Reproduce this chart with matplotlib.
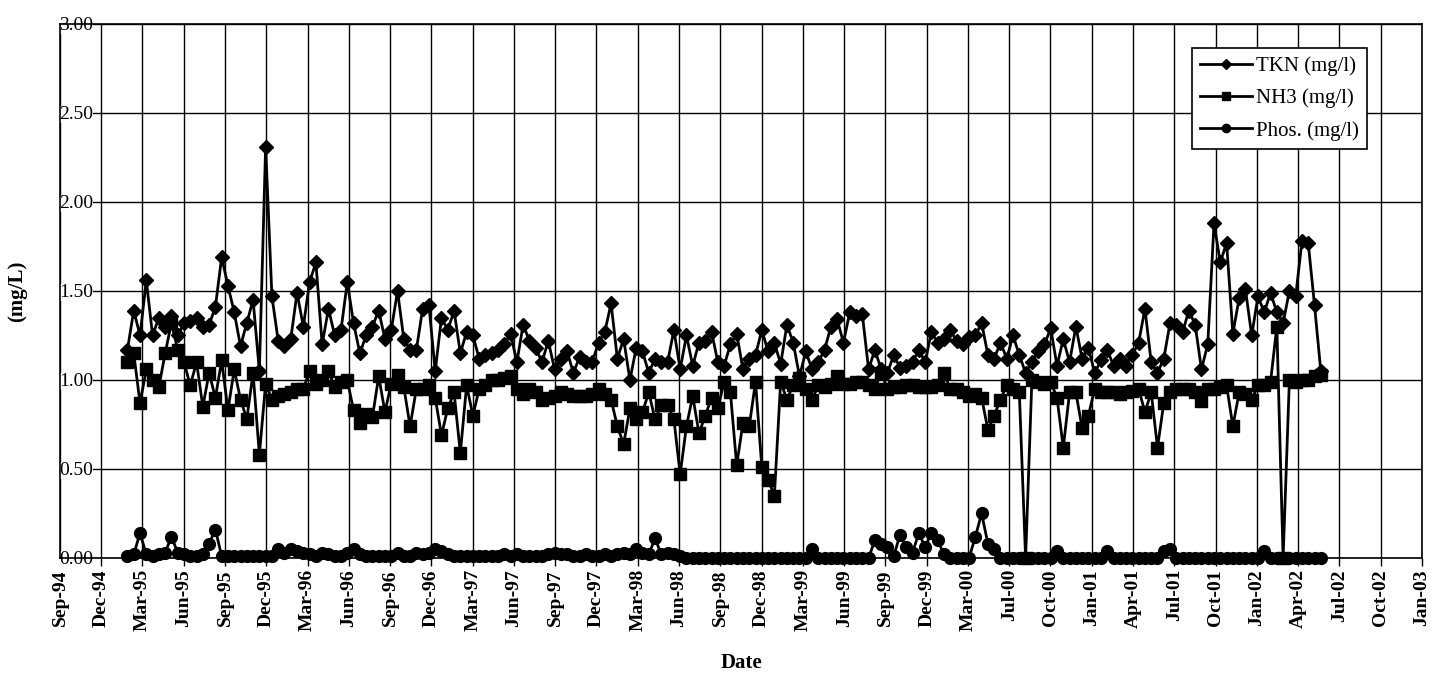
import numpy as np
import pandas as pd
import matplotlib
matplotlib.use("Agg")
import matplotlib.pyplot as plt
import matplotlib.dates as mdates

plt.rcParams['font.family'] = ['Liberation Serif', 'DejaVu Serif']

# sampling dates (bi-weekly grab samples, Feb-95 .. May-02)
sample_dates = pd.date_range('1995-02-13', periods=191, freq='14D')

tkn = [
    1.17, 1.39, 1.25, 1.56, 1.25, 1.35, 1.30, 1.36, 1.25, 1.32,
    1.33, 1.35, 1.30, 1.31, 1.41, 1.69, 1.53, 1.38, 1.19, 1.32,
    1.45, 1.05, 2.31, 1.47, 1.22, 1.19, 1.23, 1.49, 1.30, 1.55,
    1.66, 1.20, 1.40, 1.25, 1.28, 1.55, 1.32, 1.15, 1.25, 1.30,
    1.39, 1.23, 1.28, 1.50, 1.23, 1.17, 1.17,
    1.40, 1.42, 1.05, 1.35, 1.28, 1.39, 1.15, 1.27, 1.25, 1.12,
    1.14, 1.15, 1.17, 1.20, 1.26, 1.10, 1.31, 1.22, 1.18, 1.10,
    1.22, 1.06, 1.12, 1.16, 1.04, 1.13, 1.10, 1.10, 1.21, 1.27,
    1.43, 1.12, 1.23, 1.00, 1.18, 1.16, 1.04, 1.12, 1.10, 1.10,
    1.28, 1.06, 1.25, 1.08, 1.21, 1.22,
    1.27, 1.10, 1.08, 1.20, 1.26, 1.06, 1.12, 1.14, 1.28, 1.16,
    1.21, 1.09, 1.31, 1.21, 1.02, 1.16, 1.06, 1.10, 1.17, 1.30,
    1.34, 1.21, 1.38, 1.36, 1.37, 1.06, 1.17, 1.06, 1.04, 1.14,
    1.07, 1.08, 1.10, 1.17, 1.10, 1.27, 1.21, 1.23, 1.28, 1.22,
    1.20, 1.24, 1.25, 1.32, 1.14, 1.12, 1.21,
    1.12, 1.25, 1.14, 1.04, 1.10, 1.16, 1.20, 1.29, 1.08, 1.23,
    1.10, 1.30, 1.12, 1.18, 1.04, 1.11, 1.17, 1.08, 1.12, 1.08,
    1.14, 1.21, 1.40, 1.10, 1.04, 1.12, 1.32, 1.31, 1.27, 1.39,
    1.31, 1.06, 1.20, 1.88, 1.66, 1.77, 1.26, 1.46, 1.51, 1.25,
    1.47, 1.38, 1.49, 1.38, 1.32, 1.50, 1.47, 1.78, 1.77, 1.42,
    1.05,
]

nh3 = [
    1.10, 1.15, 0.87, 1.06, 1.00, 0.96, 1.15, 1.32, 1.17, 1.10,
    0.97, 1.10, 0.85, 1.04, 0.90, 1.11, 0.83, 1.06, 0.89, 0.78,
    1.04, 0.58, 0.98, 0.89, 0.91, 0.92, 0.93, 0.95, 0.95, 1.05,
    0.98, 1.00, 1.05, 0.96, 0.99, 1.00, 0.83, 0.76, 0.81, 0.79,
    1.02, 0.82, 0.98, 1.03, 0.96, 0.74, 0.95,
    0.95, 0.97, 0.90, 0.69, 0.84, 0.93, 0.59, 0.97, 0.80, 0.95,
    0.97, 1.00, 1.00, 1.01, 1.02, 0.95, 0.92, 0.95, 0.93, 0.89,
    0.90, 0.91, 0.93, 0.92, 0.91, 0.91, 0.91, 0.92, 0.95, 0.92,
    0.89, 0.74, 0.64, 0.84, 0.78, 0.82, 0.93, 0.78, 0.86, 0.86,
    0.78, 0.47, 0.74, 0.91, 0.70, 0.80,
    0.90, 0.84, 0.99, 0.93, 0.52, 0.76, 0.74, 0.99, 0.51, 0.44,
    0.35, 0.99, 0.89, 0.97, 1.01, 0.95, 0.89, 0.97, 0.96, 0.98,
    1.02, 0.98, 0.98, 0.99, 0.99, 0.97, 0.95, 1.04, 0.95, 0.96,
    0.96, 0.97, 0.97, 0.96, 0.96, 0.96, 0.97, 1.04, 0.95, 0.95,
    0.93, 0.91, 0.92, 0.90, 0.72, 0.80, 0.89,
    0.97, 0.95, 0.93, 0.00, 1.00, 0.99, 0.98, 0.99, 0.90, 0.62,
    0.93, 0.93, 0.73, 0.80, 0.95, 0.93, 0.93, 0.93, 0.92, 0.93,
    0.94, 0.95, 0.82, 0.93, 0.62, 0.87, 0.93, 0.95, 0.95, 0.95,
    0.93, 0.88, 0.95, 0.95, 0.96, 0.97, 0.74, 0.93, 0.92, 0.89,
    0.97, 0.97, 0.99, 1.30, 0.00, 1.00, 0.99, 1.00, 1.00, 1.02,
    1.03,
]

phos = [
    0.01, 0.02, 0.14, 0.02, 0.01, 0.02, 0.03, 0.12, 0.03, 0.02,
    0.01, 0.01, 0.02, 0.08, 0.16, 0.01, 0.01, 0.01, 0.01, 0.01,
    0.01, 0.01, 0.01, 0.01, 0.05, 0.03, 0.05, 0.04, 0.03, 0.02,
    0.01, 0.03, 0.02, 0.01, 0.01, 0.03, 0.05, 0.02, 0.01, 0.01,
    0.01, 0.01, 0.01, 0.03, 0.01, 0.01, 0.03,
    0.02, 0.03, 0.05, 0.04, 0.02, 0.01, 0.01, 0.01, 0.01, 0.01,
    0.01, 0.01, 0.01, 0.02, 0.01, 0.02, 0.01, 0.01, 0.01, 0.01,
    0.02, 0.03, 0.02, 0.02, 0.01, 0.01, 0.02, 0.01, 0.01, 0.02,
    0.01, 0.02, 0.03, 0.02, 0.05, 0.03, 0.02, 0.11, 0.02, 0.03,
    0.02, 0.01, 0.00, 0.00, 0.00, 0.00,
    0.00, 0.00, 0.00, 0.00, 0.00, 0.00, 0.00, 0.00, 0.00, 0.00,
    0.00, 0.00, 0.00, 0.00, 0.00, 0.00, 0.05, 0.00, 0.00, 0.00,
    0.00, 0.00, 0.00, 0.00, 0.00, 0.00, 0.10, 0.08, 0.06, 0.01,
    0.13, 0.06, 0.03, 0.14, 0.06, 0.14, 0.10, 0.02, 0.00, 0.00,
    0.00, 0.00, 0.12, 0.25, 0.08, 0.05, 0.00,
    0.00, 0.00, 0.00, 0.00, 0.00, 0.00, 0.00, 0.00, 0.04, 0.00,
    0.00, 0.00, 0.00, 0.00, 0.00, 0.00, 0.04, 0.00, 0.00, 0.00,
    0.00, 0.00, 0.00, 0.00, 0.00, 0.04, 0.05, 0.00, 0.00, 0.00,
    0.00, 0.00, 0.00, 0.00, 0.00, 0.00, 0.00, 0.00, 0.00, 0.00,
    0.00, 0.04, 0.00, 0.00, 0.00, 0.00, 0.00, 0.00, 0.00, 0.00,
    0.00,
]

# axis: Excel-style date axis, 92-day major unit starting mid Sep-94
x_start = pd.Timestamp('1994-09-15 12:00')
x_ticks = pd.date_range(x_start, periods=34, freq='92D')
y_ticks = [0.0, 0.5, 1.0, 1.5, 2.0, 2.5, 3.0]

fig = plt.figure(figsize=(14.34, 6.73), dpi=100)
ax = fig.add_axes([0.0418, 0.1709, 0.9498, 0.7935])
ax.set_axisbelow(True)

ax.plot(sample_dates, tkn, color='black', lw=2.0, marker='D', ms=7,
        label='TKN (mg/l)', clip_on=False)
ax.plot(sample_dates, nh3, color='black', lw=2.0, marker='s', ms=8,
        label='NH3 (mg/l)', clip_on=False)
ax.plot(sample_dates, phos, color='black', lw=2.0, marker='o', ms=8.5,
        label='Phos. (mg/l)', clip_on=False)

ax.set_xlim(x_ticks[0], x_ticks[-1])
ax.set_ylim(0, 3.0)
ax.set_xticks(x_ticks)
ax.xaxis.set_major_formatter(mdates.DateFormatter('%b-%y'))
ax.set_yticks(y_ticks)
ax.set_yticklabels([f'{v:.2f}' for v in y_ticks])

ax.grid(True, color='black', lw=1.0)
for s in ax.spines.values():
    s.set_color('black')
    s.set_linewidth(1.2)
    s.set_zorder(3)

ax.tick_params(axis='x', direction='out', length=6, width=1, pad=2,
               labelsize=14, labelrotation=90)
for lab in ax.get_xticklabels():
    lab.set_fontweight('bold')
ax.tick_params(axis='y', length=0, pad=-24, labelsize=14)
for lab in ax.get_yticklabels():
    lab.set_bbox(dict(facecolor='white', edgecolor='none', pad=0))

ax.set_xlabel('Date', fontsize=15, fontweight='bold')
ax.xaxis.set_label_coords(0.5, -0.178)
ax.set_ylabel('(mg/L)', fontsize=15, fontweight='bold')
ax.yaxis.set_label_coords(-0.024, 0.5)

leg = ax.legend(loc='upper right', bbox_to_anchor=(0.960, 0.955),
                fontsize=15, frameon=True, fancybox=False, framealpha=1,
                edgecolor='black', handlelength=2.5, markerscale=0.7,
                labelspacing=0.6, borderpad=0.4, handletextpad=0.2,
                borderaxespad=0)
leg.get_frame().set_linewidth(1.2)

fig.savefig('out.png', dpi=100)
